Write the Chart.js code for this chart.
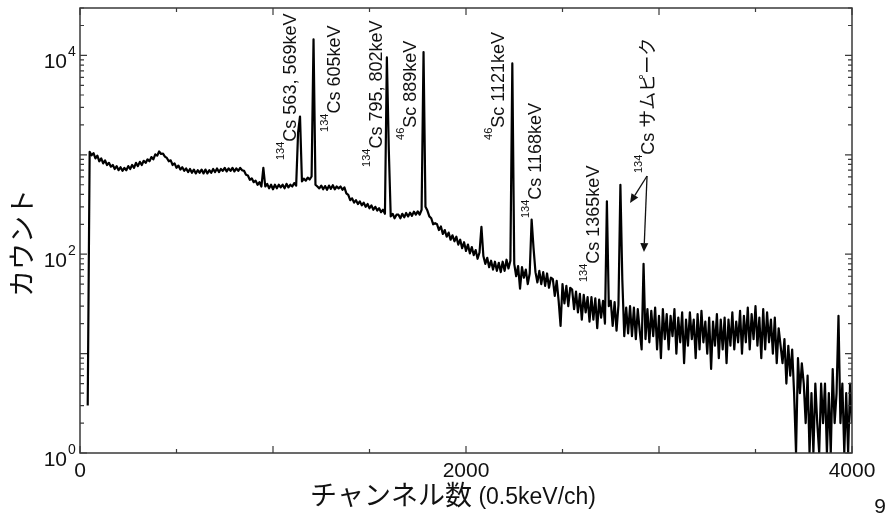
<!DOCTYPE html>
<html>
<head>
<meta charset="utf-8">
<script src="https://cdn.jsdelivr.net/npm/chart.js@4"></script>
<style>
  body { margin: 0; background: #fff; }
  canvas { display: block; }
</style>
</head>
<body>
<canvas id="spectrum" width="889" height="516"></canvas>
<script>
// gamma spectrum, 0.5 keV per channel, counts per 10-channel step
const firstChannel = 40;
const channelStep = 10;
const counts = [
  3,
  1070, 990, 1040, 920, 980, 860, 920, 820, 880, 790,
  830, 760, 790, 720, 770, 700, 750, 690, 740, 700,
  770, 720, 790, 740, 830, 770, 850, 790, 870, 830,
  900, 860, 950, 900, 1010, 980, 1080, 1020, 1030, 960,
  930, 860, 880, 790, 820, 740, 780, 710, 750, 690,
  730, 670, 720, 660, 710, 650, 700, 660, 710, 650,
  710, 650, 700, 660, 720, 670, 730, 670, 720, 690,
  740, 680, 730, 690, 740, 680, 730, 690, 740, 700,
  690, 630, 620, 560, 580, 530, 550, 500, 530, 480,
  740, 480, 510, 460, 500, 450, 500, 460, 500, 470,
  500, 460, 510, 470, 500, 480, 520, 490, 1680, 2430,
  540, 575, 550, 590, 565, 605, 14500, 500, 480, 460,
  490, 450, 485, 445, 490, 455, 495, 450, 480, 460,
  480, 445, 470, 410, 395, 350, 365, 330, 350, 320,
  340, 310, 330, 300, 320, 290, 310, 280, 300, 275,
  290, 265, 280, 255, 9550, 1130, 240, 255, 230, 250,
  250, 230, 255, 235, 260, 240, 262, 243, 268, 250,
  270, 250, 280, 10800, 300, 275, 240, 230, 200, 205,
  200, 175, 190, 160, 175, 150, 165, 140, 155, 135,
  150, 125, 140, 115, 132, 108, 125, 102, 118, 98,
  110, 90, 104, 189, 96, 80, 92, 74, 86, 70,
  84, 68, 82, 66, 84, 68, 88, 72, 86, 8300,
  80, 60, 76, 45, 74, 58, 70, 50, 64, 223,
  115, 66, 52, 68, 50, 66, 48, 64, 46, 58,
  56, 38, 54, 34, 19, 50, 32, 48, 30, 46,
  44, 28, 42, 26, 40, 22, 39, 26, 37, 21,
  37, 22, 36, 18, 35, 23, 34, 20, 340, 30,
  34, 19, 33, 17, 31, 500, 55, 15, 29, 16,
  30, 15, 29, 14, 28, 17, 11, 80, 14, 28,
  13, 27, 15, 29, 11, 24, 9, 28, 14, 25,
  11, 24, 15, 28, 10, 23, 13, 26, 8, 22,
  12, 26, 14, 22, 9, 25, 11, 27, 13, 21,
  10, 23, 7, 21, 12, 25, 9, 22, 11, 23,
  8, 22, 12, 26, 11, 21, 13, 27, 10, 24,
  13, 29, 11, 25, 14, 30, 12, 23, 9, 28,
  11, 26, 13, 22, 10, 23, 8, 18, 12, 8,
  14, 5, 12, 6, 11, 4, 1, 9, 4, 8,
  5, 2, 6, 1, 4, 1, 5, 2, 1, 5,
  2, 5, 1, 4, 1, 7, 2, 4, 24, 2,
  5, 1, 4, 1, 5, 2
];

const xMajorTicks = [0, 1000, 2000, 3000, 4000];
const xMinorTicks = [500, 1500, 2500, 3500];
const xTickLabels = ['0', '', '2000', '', '4000'];
const yDecades = [1, 10, 100, 1000, 10000];
const yExponents = ['0', '', '2', '', '4'];

// peak labels: [isotope, text, channel, count] at the start of the rotated text
const peakLabels = [
  ['134', 'Cs 563, 569keV', 1119, 887],
  ['134', 'Cs 605keV', 1347, 1698],
  ['134', 'Cs 795, 802keV', 1565, 755],
  ['46', 'Sc 889keV', 1741, 1410],
  ['46', 'Sc 1121keV', 2197, 1410],
  ['134', 'Cs 1168keV', 2389, 231],
  ['134', 'Cs 1365keV', 2689, 52.5],
  ['134', 'Cs サムピーク', 2974, 656]
];
const arrowFrom = [2938, 612];
const arrowTo = [[2850, 328], [2922, 105]];

const points = counts.map((c, i) => ({ x: firstChannel + i * channelStep, y: c }));

const LATIN = '"Liberation Sans", Arial, sans-serif';
const JP = '"Noto Sans CJK JP", sans-serif';

const decorations = {
  id: 'decorations',
  afterDatasetsDraw(chart) {
    const { ctx, chartArea: a, scales: { x, y } } = chart;
    ctx.save();

    // frame
    ctx.strokeStyle = '#3a3a3a';
    ctx.lineWidth = 1.5;
    ctx.strokeRect(a.left, a.top, a.right - a.left, a.bottom - a.top);

    // inward ticks on all four sides
    ctx.lineWidth = 1.2;
    ctx.beginPath();
    const xTick = (v, len) => {
      const px = x.getPixelForValue(v);
      ctx.moveTo(px, a.bottom); ctx.lineTo(px, a.bottom - len);
      ctx.moveTo(px, a.top); ctx.lineTo(px, a.top + len);
    };
    const yTick = (v, len) => {
      const py = y.getPixelForValue(v);
      ctx.moveTo(a.left, py); ctx.lineTo(a.left + len, py);
      ctx.moveTo(a.right, py); ctx.lineTo(a.right - len, py);
    };
    xMajorTicks.forEach(v => xTick(v, 7));
    xMinorTicks.forEach(v => xTick(v, 4));
    yDecades.forEach(d => {
      yTick(d, 7);
      for (let m = 2; m <= 9; m++) if (d * m <= y.max) yTick(d * m, 4);
    });
    ctx.stroke();

    // tick labels
    ctx.fillStyle = '#111';
    ctx.font = '21px ' + LATIN;
    ctx.textAlign = 'center';
    ctx.textBaseline = 'alphabetic';
    xMajorTicks.forEach((v, i) => {
      if (xTickLabels[i]) ctx.fillText(xTickLabels[i], x.getPixelForValue(v), a.bottom + 24);
    });
    yDecades.forEach((d, i) => {
      if (!yExponents[i]) return;
      const py = y.getPixelForValue(d);
      ctx.font = '21px ' + LATIN;
      ctx.textAlign = 'right';
      ctx.fillText('10', a.left - 13, py + 13);
      ctx.font = '14px ' + LATIN;
      ctx.textAlign = 'left';
      ctx.fillText(yExponents[i], a.left - 12, py + 1);
    });

    // axis titles
    ctx.textAlign = 'left';
    ctx.font = '27px ' + JP;
    const jpPart = 'チャンネル数';
    const tx = 310;
    ctx.fillText(jpPart, tx, 505);
    const jpW = ctx.measureText(jpPart).width;
    ctx.font = '23px ' + LATIN;
    ctx.fillText(' (0.5keV/ch)', tx + jpW, 504);

    ctx.save();
    ctx.translate(32, 243);
    ctx.rotate(-Math.PI / 2);
    ctx.font = '27px ' + JP;
    ctx.textAlign = 'center';
    ctx.fillText('カウント', 0, 0);
    ctx.restore();

    // peak labels, rotated, with superscript mass numbers
    peakLabels.forEach(([iso, text, ch, c]) => {
      ctx.save();
      ctx.translate(x.getPixelForValue(ch), y.getPixelForValue(c));
      ctx.rotate(-Math.PI / 2);
      ctx.textAlign = 'left';
      ctx.font = '11px ' + LATIN;
      ctx.fillText(iso, 0, -12);
      const w = ctx.measureText(iso).width;
      ctx.font = '18px ' + LATIN + ', ' + JP;
      ctx.fillText(text, w, 0);
      ctx.restore();
    });

    // arrows to the sum peaks
    const ox = x.getPixelForValue(arrowFrom[0]);
    const oy = y.getPixelForValue(arrowFrom[1]);
    ctx.strokeStyle = '#111';
    ctx.lineWidth = 1.3;
    arrowTo.forEach(([ch, c]) => {
      const ex = x.getPixelForValue(ch);
      const ey = y.getPixelForValue(c);
      const ang = Math.atan2(ey - oy, ex - ox);
      const hl = 9, hw = 4;
      const bx = ex - hl * Math.cos(ang), by = ey - hl * Math.sin(ang);
      ctx.beginPath();
      ctx.moveTo(ox, oy);
      ctx.lineTo(bx, by);
      ctx.stroke();
      ctx.beginPath();
      ctx.moveTo(ex, ey);
      ctx.lineTo(bx - hw * Math.sin(ang), by + hw * Math.cos(ang));
      ctx.lineTo(bx + hw * Math.sin(ang), by - hw * Math.cos(ang));
      ctx.closePath();
      ctx.fill();
    });

    // page number
    ctx.font = '21px ' + LATIN;
    ctx.textAlign = 'center';
    ctx.fillText('9', 880, 513);

    ctx.restore();
  }
};

new Chart(document.getElementById('spectrum'), {
  type: 'line',
  data: {
    datasets: [{
      data: points,
      borderColor: '#000',
      borderWidth: 2.2,
      borderJoinStyle: 'round',
      pointRadius: 0,
      tension: 0
    }]
  },
  options: {
    responsive: false,
    animation: false,
    layout: { padding: { top: 8, right: 37, left: 0, bottom: 0 } },
    plugins: { legend: { display: false }, tooltip: { enabled: false } },
    scales: {
      x: {
        type: 'linear', min: 0, max: 4000,
        grid: { display: false }, border: { display: false },
        ticks: { display: false },
        afterFit(scale) { scale.height = 63; }
      },
      y: {
        type: 'logarithmic', min: 1, max: 30000,
        grid: { display: false }, border: { display: false },
        ticks: { display: false },
        afterFit(scale) { scale.width = 80; }
      }
    }
  },
  plugins: [decorations]
});
</script>
</body>
</html>
